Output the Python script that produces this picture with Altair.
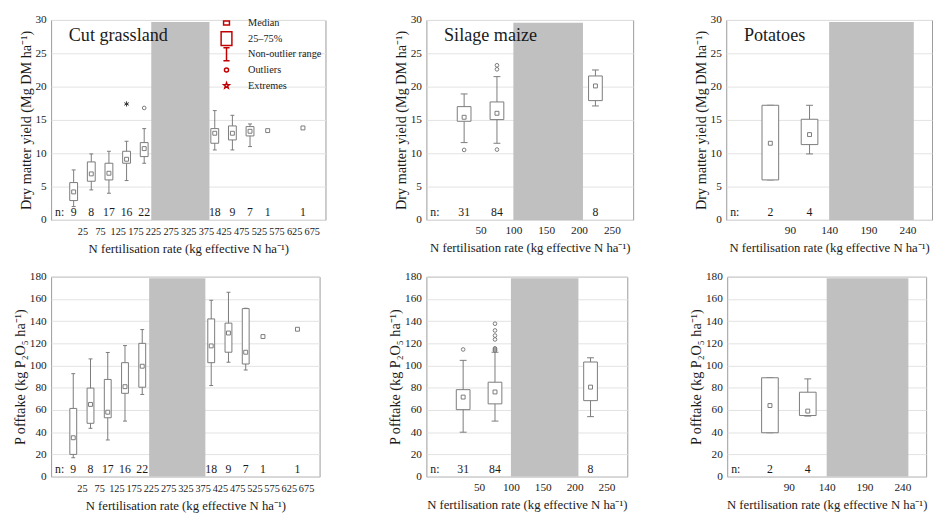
import math
import altair as alt
import pandas as pd

FONT = "Liberation Serif"
LINE = "#7a7a7a"
SHADE = "#c0c0c0"
RED = "#c00000"
TXT = "#1a1a1a"

X_TITLE = "N fertilisation rate (kg effective N ha⁻¹)"
DM_TITLE = "Dry matter yield (Mg DM ha⁻¹)"
P_TITLE = "P offtake (kg P₂O₅ ha⁻¹)"

# ---------------- Cut grassland ----------------
grass_x = [0, 50, 100, 150, 200, 400, 450, 500, 550, 650]
grass_n = [9, 8, 17, 16, 22, 18, 9, 7, 1, 1]
grass_dm_wl = [2.0, 4.5, 4.0, 5.9, 8.5, 10.5, 10.5, 11.0, None, None]
grass_dm_q1 = [2.9, 5.8, 6.0, 8.5, 9.5, 11.5, 12.0, 12.6, None, None]
grass_dm_med = [4.2, 6.9, 7.0, 9.1, 10.7, 13.0, 13.0, 13.3, 13.4, 13.8]
grass_dm_q3 = [5.6, 8.7, 8.5, 10.3, 11.6, 13.7, 14.1, 14.0, None, None]
grass_dm_wh = [7.5, 9.9, 10.3, 11.8, 13.7, 16.4, 15.7, 14.4, None, None]
grass_dm_out_x = [200]
grass_dm_out_y = [16.8]
grass_dm_ext_x = [150]
grass_dm_ext_y = [17.4]

grass_p_wl = [17, 43.5, 33, 50, 74, 82, 103, 96, None, None]
grass_p_q1 = [20, 48, 53, 75, 80.5, 102.6, 112, 101.4, None, None]
grass_p_med = [35, 65, 58, 81, 99.4, 117.7, 129.3, 112, 126.1, 132.7]
grass_p_q3 = [61.4, 79.7, 87.5, 102.6, 120, 142, 138.2, 151.3, None, None]
grass_p_wh = [92.7, 106, 111.8, 118, 132.4, 158.8, 166, 151.6, None, None]

# ---------------- Silage maize ----------------
maize_x = [25, 75, 225]
maize_n = [31, 84, 8]
maize_dm_wl = [11.6, 11.5, 17.1]
maize_dm_q1 = [14.8, 15.05, 17.9]
maize_dm_med = [15.4, 16.0, 20.1]
maize_dm_q3 = [17.0, 17.7, 21.6]
maize_dm_wh = [18.9, 21.5, 22.5]
maize_dm_out_x = [25, 75, 75, 75]
maize_dm_out_y = [10.5, 10.55, 22.6, 23.2]

maize_p_wl = [40, 50, 54]
maize_p_q1 = [60.3, 65.5, 68.4]
maize_p_med = [71.6, 76.2, 80.6]
maize_p_q3 = [78.3, 85, 103.2]
maize_p_wh = [104.7, 112, 107]
maize_p_out_x = [25, 75, 75, 75, 75, 75, 75, 75]
maize_p_out_y = [114.5, 113.5, 114.5, 115.5, 123.5, 127, 131.6, 137.7]

# ---------------- Potatoes ----------------
pot_x = [65, 115]
pot_n = [2, 4]
pot_dm_wl = [6.0, 9.9]
pot_dm_q1 = [6.0, 11.3]
pot_dm_med = [11.5, 12.8]
pot_dm_q3 = [17.2, 15.1]
pot_dm_wh = [17.2, 17.2]

pot_p_wl = [39.5, 54.5]
pot_p_q1 = [39.5, 55]
pot_p_med = [64, 59]
pot_p_q3 = [89, 76]
pot_p_wh = [89, 88]

# shaded (no data) N ranges: x0, x1, y0, y1
grass_shade_dm = [220, 385, 0, 29.7]
grass_shade_p = [220, 383, 0, 178.7]
maize_shade_dm = [100, 206, 0, 29.6]
maize_shade_p = [100, 206, 0, 178.7]
pot_shade_dm = [140, 248, 0, 29.7]
pot_shade_p = [140, 248, 0, 178.7]

grass_ticks = [25, 75, 125, 175, 225, 275, 325, 375, 425, 475, 525, 575, 625, 675]
maize_ticks = [50, 100, 150, 200, 250]
pot_ticks = [90, 140, 190, 240]
dm_ticks = [0, 5, 10, 15, 20, 25, 30]
p_ticks = [0, 20, 40, 60, 80, 100, 120, 140, 160, 180]

legend_items = ["Median", "25–75%", "Non-outlier range", "Outliers", "Extremes"]


def star_path(r_out, r_in):
    pts = []
    for k in range(10):
        ang = math.radians(-90 + 36 * k)
        r = r_out if k % 2 == 0 else r_in
        pts.append(f"{r * math.cos(ang):.3f},{r * math.sin(ang):.3f}")
    return "M" + "L".join(pts) + "Z"


legend_paths = [
    "M-0.6,-0.41L0.6,-0.41L0.6,0.41L-0.6,0.41Z",
    "M-1.1,-1.4L1.1,-1.4L1.1,1.4L-1.1,1.4Z",
    "M-0.63,-1.33L0.63,-1.33M0,-1.33L0,1.33M-0.63,1.33L0.63,1.33",
    "M0.42,0A0.42,0.42 0 1,1 -0.42,0A0.42,0.42 0 1,1 0.42,0Z",
    star_path(0.6, 0.25),
]
ASTERISK = "M0,-1L0,1M-0.87,-0.5L0.87,0.5M-0.87,0.5L0.87,-0.5"


def panel(x, n, wl, q1, med, q3, wh, shade, xdom, xticks, ydom, yticks, ytitle,
          width, height, box_w, cap_w, out_x=None, out_y=None, ext_x=None, ext_y=None,
          xlab_size=11.5, xlab_pad=5, title=None, legend=False):
    xs = alt.Scale(domain=xdom, nice=False, zero=False)
    ys = alt.Scale(domain=ydom, nice=False, zero=False)
    xaxis = alt.Axis(values=xticks, labelFontSize=xlab_size,
                     labelPadding=xlab_pad, grid=False, labelOverlap=False, labelFlush=False)
    yaxis = alt.Axis(values=yticks, grid=True, labelOverlap=False, labelFlush=False)

    def X(f):
        return alt.X(f"{f}:Q", scale=xs, axis=xaxis, title=X_TITLE)

    def Y(f):
        return alt.Y(f"{f}:Q", scale=ys, axis=yaxis, title=ytitle)

    shade_df = pd.DataFrame({"x0": [shade[0]], "x1": [shade[1]], "y0": [shade[2]], "y1": [shade[3]]})
    layers = [
        alt.Chart(shade_df).mark_rect(color=SHADE).encode(
            x=X("x0"), x2="x1:Q", y=Y("y0"), y2="y1:Q")
    ]
    boxes = pd.DataFrame({"x": x, "n": n, "wl": wl, "q1": q1, "med": med, "q3": q3, "wh": wh})
    bc = alt.Chart(boxes)
    layers.append(bc.mark_rule(color=LINE, strokeWidth=1).encode(x=X("x"), y=Y("wl"), y2="wh:Q"))
    for f in ["wl", "wh"]:
        layers.append(bc.mark_tick(color=LINE, orient="horizontal", size=cap_w, thickness=1,
                                   opacity=1).encode(x=X("x"), y=Y(f)))
    layers.append(bc.mark_bar(size=box_w, fill="white", stroke=LINE, strokeWidth=1).encode(
        x=X("x"), y=Y("q1"), y2="q3:Q"))
    layers.append(bc.mark_point(shape="square", size=16, filled=False, color=LINE,
                                strokeWidth=1, opacity=1).encode(x=X("x"), y=Y("med")))
    if out_x:
        odf = pd.DataFrame({"x": out_x, "v": out_y})
        layers.append(alt.Chart(odf).mark_point(shape="circle", size=14, filled=False, color=LINE,
                                                strokeWidth=1, opacity=1).encode(x=X("x"), y=Y("v")))
    if ext_x:
        edf = pd.DataFrame({"x": ext_x, "v": ext_y})
        layers.append(alt.Chart(edf).mark_point(shape=ASTERISK, size=28, filled=False, color="#333333",
                                                strokeWidth=1, opacity=1).encode(x=X("x"), y=Y("v")))
    layers.append(bc.mark_text(font=FONT, fontSize=12, color=TXT, baseline="middle").encode(
        x=X("x"), y=alt.value(height - 8), text="n:Q"))
    layers.append(alt.Chart(pd.DataFrame({"t": ["n:"]})).mark_text(
        font=FONT, fontSize=12, color=TXT, baseline="middle", align="left").encode(
        x=alt.value(4), y=alt.value(height - 8), text="t:N"))
    if legend:
        leg_df = pd.DataFrame({"item": legend_items})
        layers.append(alt.Chart(leg_df).transform_filter("false").mark_point(
            filled=False, color=RED, strokeWidth=1.5, opacity=1).encode(
            shape=alt.Shape("item:N", scale=alt.Scale(domain=legend_items, range=legend_paths),
                            legend=alt.Legend(orient="none", legendX=173, legendY=-3, title=None,
                                              symbolSize=100, symbolStrokeColor=RED,
                                              symbolStrokeWidth=1.5, symbolFillColor="transparent",
                                              symbolOpacity=1, labelFont=FONT, labelFontSize=10.5,
                                              labelColor=TXT, labelOffset=16, rowPadding=-4.2,
                                              gridAlign="all", padding=0))))
    ch = alt.layer(*layers).properties(width=width, height=height)
    if title:
        ch = ch.properties(title=alt.TitleParams(
            text=title, anchor="start", frame="group", orient="top", offset=0, dx=18, dy=40,
            baseline="middle", fontSize=18.5, font=FONT, fontWeight="normal", color=TXT))
    return ch.resolve_scale(shape="independent")


TOP_H = 204
BOT_H = 204

p1t = panel(grass_x, grass_n, grass_dm_wl, grass_dm_q1, grass_dm_med, grass_dm_q3, grass_dm_wh,
            grass_shade_dm, [-50, 700], grass_ticks, [0, 30], dm_ticks, DM_TITLE, 280, TOP_H, 8, 4,
            out_x=grass_dm_out_x, out_y=grass_dm_out_y, ext_x=grass_dm_ext_x, ext_y=grass_dm_ext_y,
            xlab_size=10.5, xlab_pad=7, title="Cut grassland", legend=True)
p2t = panel(maize_x, maize_n, maize_dm_wl, maize_dm_q1, maize_dm_med, maize_dm_q3, maize_dm_wh,
            maize_shade_dm, [-25, 275], maize_ticks, [0, 30], dm_ticks, DM_TITLE, 211, TOP_H, 14, 7,
            out_x=maize_dm_out_x, out_y=maize_dm_out_y, title="Silage maize")
p3t = panel(pot_x, pot_n, pot_dm_wl, pot_dm_q1, pot_dm_med, pot_dm_q3, pot_dm_wh,
            pot_shade_dm, [15, 265], pot_ticks, [0, 30], dm_ticks, DM_TITLE, 210, TOP_H, 17, 7,
            title="Potatoes")

p1b = panel(grass_x, grass_n, grass_p_wl, grass_p_q1, grass_p_med, grass_p_q3, grass_p_wh,
            grass_shade_p, [-50, 700], grass_ticks, [0, 180], p_ticks, P_TITLE, 274, BOT_H, 7, 4,
            xlab_size=10.5, xlab_pad=7)
p2b = panel(maize_x, maize_n, maize_p_wl, maize_p_q1, maize_p_med, maize_p_q3, maize_p_wh,
            maize_shade_p, [-25, 275], maize_ticks, [0, 180], p_ticks, P_TITLE, 205, BOT_H, 14, 7,
            out_x=maize_p_out_x, out_y=maize_p_out_y)
p3b = panel(pot_x, pot_n, pot_p_wl, pot_p_q1, pot_p_med, pot_p_q3, pot_p_wh,
            pot_shade_p, [15, 265], pot_ticks, [0, 180], p_ticks, P_TITLE, 203, BOT_H, 17, 7)


def indep(c):
    return c.resolve_scale(shape="independent").resolve_legend(shape="independent")


top_row = indep(alt.hconcat(indep(alt.hconcat(p1t, p2t, spacing=68)), p3t, spacing=60))
bot_row = indep(alt.hconcat(indep(alt.hconcat(p1b, p2b, spacing=68)), p3b, spacing=61))

chart = indep(alt.vconcat(top_row, bot_row, spacing=14)).properties(
    padding={"left": 4, "top": 0, "right": 0, "bottom": 0}
).configure(font=FONT).configure_axis(
    labelFont=FONT, titleFont=FONT, labelFontSize=11.5, titleFontSize=14.5,
    labelColor=TXT, titleColor=TXT, titleFontWeight="normal", domain=False, ticks=False,
    tickSize=0, gridColor="#e2e2e2", gridWidth=1, labelPadding=5, titlePadding=2
).configure_axisX(titleFontSize=13, titlePadding=6).configure_view(
    stroke="#9a9a9a", strokeWidth=1
)

chart.save("out.html", embed_options={"renderer": "svg", "actions": False})
